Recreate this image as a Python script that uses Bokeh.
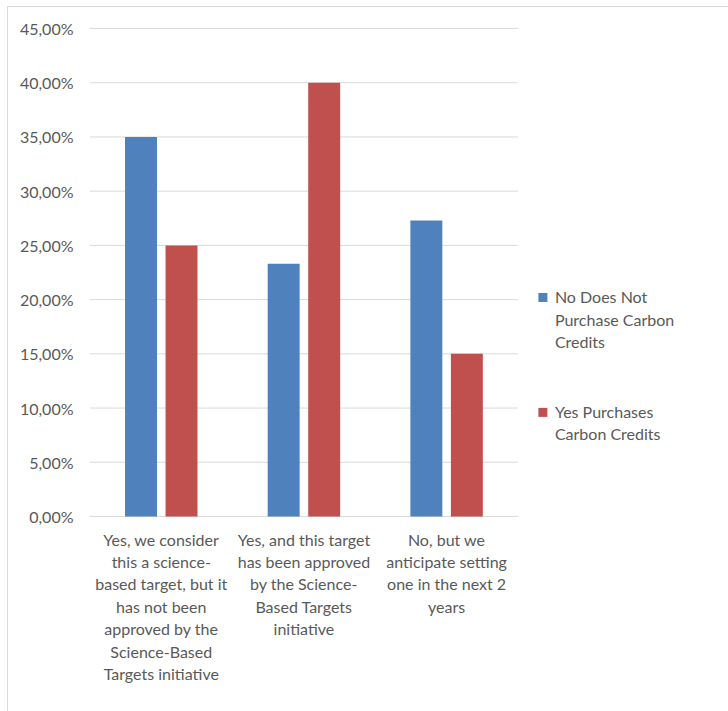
import numpy as np
from bokeh.plotting import figure
from bokeh.models import Range1d, FixedTicker, ColumnDataSource
from bokeh.transform import dodge
from bokeh.core.properties import value
from bokeh.embed import file_html
from bokeh.resources import INLINE

# ---------------- data ----------------
categories = [
    "Yes, we consider\nthis a science-\nbased target, but it\nhas not been\napproved by the\nScience-Based\nTargets initiative",
    "Yes, and this target\nhas been approved\nby the Science-\nBased Targets\ninitiative",
    "No, but we\nanticipate setting\none in the next 2\nyears",
]
series_names = ["No Does Not\nPurchase Carbon\nCredits", "Yes Purchases\nCarbon Credits"]
no_purchase = [35.0, 23.3, 27.3]
yes_purchase = [25.0, 40.0, 15.0]
y_ticks = [0, 5, 10, 15, 20, 25, 30, 35, 40, 45]
y_tick_labels = ["0,00%", "5,00%", "10,00%", "15,00%", "20,00%", "25,00%",
                 "30,00%", "35,00%", "40,00%", "45,00%"]

# ---------------- style ----------------
BLUE = "#4F81BD"
RED = "#C0504D"
GRID = "#d9d9d9"
TXT = "#595959"
FONT = "Lato"
FS = "16px"
LH = 1.18

W, H = 721, 705
left, right, top, bottom = 80, 0, 10, 12
frame_w = W - left - right
frame_h = H - top - bottom
cat_px = 142.67
px_per_unit = 488 / 45.0
x0 = -0.01
y_end = 45 + 11 / px_per_unit
y_start = y_end - frame_h / px_per_unit

p = figure(width=W, height=H, output_backend="svg", toolbar_location=None,
           x_range=Range1d(x0, x0 + frame_w / cat_px),
           y_range=Range1d(y_start, y_end),
           min_border_left=left, min_border_right=right,
           min_border_top=top, min_border_bottom=bottom,
           background_fill_color="white", border_fill_color="white")
p.margin = (6, 0, 0, 7)
p.styles = {"border-left": "1px solid #d9d9d9", "border-top": "1px solid #d9d9d9"}
p.outline_line_color = None
p.xaxis.visible = False
p.xgrid.visible = False
p.ygrid.visible = False

yax = p.yaxis[0]
yax.ticker = FixedTicker(ticks=y_ticks)
yax.major_label_overrides = {t: l for t, l in zip(y_ticks, y_tick_labels)}
yax.axis_line_color = None
yax.major_tick_line_color = None
yax.minor_tick_line_color = None
yax.major_tick_in = 0
yax.major_tick_out = 0
yax.major_label_standoff = 15
yax.major_label_text_font = FONT
yax.major_label_text_font_size = FS
yax.major_label_text_color = TXT

n = len(categories)
xc = np.arange(n) + 0.5

# gridlines
p.segment(x0=[0.0] * len(y_ticks), x1=[float(n)] * len(y_ticks), y0=y_ticks, y1=y_ticks,
          line_color=GRID, line_width=1)

src = ColumnDataSource(dict(x=xc, no=no_purchase, yes=yes_purchase, lab=categories))
p.vbar(x=dodge("x", -0.142), top="no", width=0.224, source=src, fill_color=BLUE, line_color=None)
p.vbar(x=dodge("x", 0.142), top="yes", width=0.224, source=src, fill_color=RED, line_color=None)

# category labels
p.text(x="x", y=-1.2, text="lab", source=src, text_align="center", text_baseline="top",
       text_font=value(FONT), text_font_size=FS, text_color=TXT, text_line_height=LH)

# legend
leg_x = 3.175
leg_y = [20.2, 9.6]
p.rect(x=[leg_x] * 2, y=leg_y, width=9 / cat_px, height=9 / px_per_unit,
       fill_color=[BLUE, RED], line_color=None)
p.text(x=[leg_x + 12 / cat_px] * 2, y=[v + 0.95 for v in leg_y], text=series_names,
       text_align="left", text_baseline="top", text_font=value(FONT), text_font_size=FS,
       text_color=TXT, text_line_height=LH)

open("out.html", "w").write(file_html(p, INLINE))
